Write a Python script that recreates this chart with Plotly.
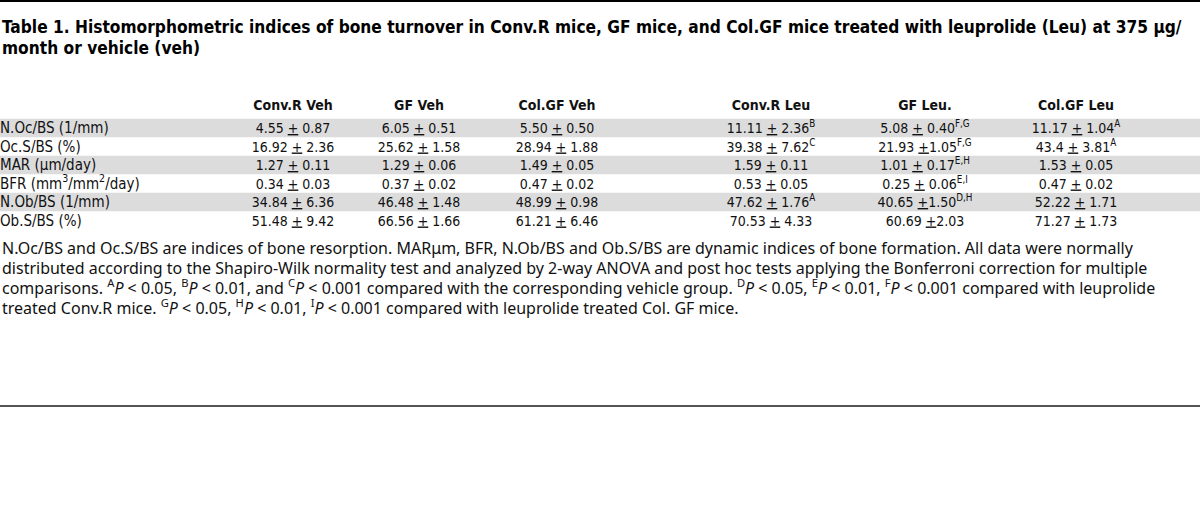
import plotly.graph_objects as go

# Table content
groups = ['Conv.R Veh', 'GF Veh', 'Col.GF Veh', 'Conv.R Leu', 'GF Leu.', 'Col.GF Leu']
indices = ['N.Oc/BS (1/mm)', 'Oc.S/BS (%)', 'MAR (μm/day)',
           'BFR (mm<sup>3</sup>/mm<sup>2</sup>/day)', 'N.Ob/BS (1/mm)', 'Ob.S/BS (%)']

means = [
    ['4.55', '16.92', '1.27', '0.34', '34.84', '51.48'],
    ['6.05', '25.62', '1.29', '0.37', '46.48', '66.56'],
    ['5.50', '28.94', '1.49', '0.47', '48.99', '61.21'],
    ['11.11', '39.38', '1.59', '0.53', '47.62', '70.53'],
    ['5.08', '21.93', '1.01', '0.25', '40.65', '60.69'],
    ['11.17', '43.4', '1.53', '0.47', '52.22', '71.27'],
]
sems = [
    ['0.87', '2.36', '0.11', '0.03', '6.36', '9.42'],
    ['0.51', '1.58', '0.06', '0.02', '1.48', '1.66'],
    ['0.50', '1.88', '0.05', '0.02', '0.98', '6.46'],
    ['2.36', '7.62', '0.11', '0.05', '1.76', '4.33'],
    ['0.40', '1.05', '0.17', '0.06', '1.50', '2.03'],
    ['1.04', '3.81', '0.05', '0.02', '1.71', '1.73'],
]
sig = [
    ['', '', '', '', '', ''],
    ['', '', '', '', '', ''],
    ['', '', '', '', '', ''],
    ['B', 'C', '', '', 'A', ''],
    ['F,G', 'F,G', 'E,H', 'E,I', 'D,H', ''],
    ['A', 'A', '', '', '', ''],
]
# cells printed without a space after the +/- sign
tight = {(4, 1), (4, 4), (4, 5)}

title = ['Table 1. Histomorphometric indices of bone turnover in Conv.R mice, GF mice, '
         'and Col.GF mice treated with leuprolide (Leu) at 375 μg/',
         'month or vehicle (veh)']
footnote = [
    'N.Oc/BS and Oc.S/BS are indices of bone resorption. MARμm, BFR, N.Ob/BS and Ob.S/BS '
    'are dynamic indices of bone formation. All data were normally',
    'distributed according to the Shapiro-Wilk normality test and analyzed by 2-way ANOVA '
    'and post hoc tests applying the Bonferroni correction for multiple',
    'comparisons. <sup>A</sup><i>P</i> &lt; 0.05, <sup>B</sup><i>P</i> &lt; 0.01, and '
    '<sup>C</sup><i>P</i> &lt; 0.001 compared with the corresponding vehicle group. '
    '<sup>D</sup><i>P</i> &lt; 0.05, <sup>E</sup><i>P</i> &lt; 0.01, <sup>F</sup><i>P</i> '
    '&lt; 0.001 compared with leuprolide',
    'treated Conv.R mice. <sup>G</sup><i>P</i> &lt; 0.05, <sup>H</sup><i>P</i> &lt; 0.01, '
    '<sup>I</sup><i>P</i> &lt; 0.001 compared with leuprolide treated Col. GF mice.',
]

# Layout (pixel space)
W, H = 1200, 511
col_x = [293, 419, 557, 771, 925, 1076]
header_y = 106
row_y0 = 128
row_h = 18.5
text_dy = 1.5
foot_y0 = 248
foot_h = 19.7
title_y = [27, 48]

cond_font = 'DejaVu Sans Condensed, Roboto, sans-serif'
foot_font = 'Noto Sans, sans-serif'

fig = go.Figure()

# gray bands on alternate rows
for i in range(0, len(indices), 2):
    fig.add_shape(type='rect', xref='x', yref='y',
                  x0=0, x1=W, y0=row_y0 + i * row_h - row_h / 2,
                  y1=row_y0 + i * row_h + row_h / 2,
                  fillcolor='#dcdcdd', line=dict(width=0), layer='below')

# top and bottom rules
fig.add_shape(type='line', xref='x', yref='y', x0=0, x1=W, y0=1, y1=1,
              line=dict(color='black', width=2))
fig.add_shape(type='line', xref='x', yref='y', x0=0, x1=W, y0=406, y1=406,
              line=dict(color='#555555', width=2))

row_pos = [row_y0 + i * row_h + text_dy for i in range(len(indices))]

# row labels
fig.add_trace(go.Scatter(
    x=[0] * len(indices), y=row_pos, text=indices, mode='text',
    textposition='middle right',
    textfont=dict(family=cond_font, size=15, color='#111111'),
    hoverinfo='skip'))

# column headers
fig.add_trace(go.Scatter(
    x=col_x, y=[header_y] * len(groups), text=['<b>%s</b>' % g for g in groups],
    mode='text', textposition='middle center',
    textfont=dict(family=cond_font, size=14, color='#111111'),
    hoverinfo='skip'))

# cells
for c in range(len(groups)):
    txt = []
    for r in range(len(indices)):
        sep = ' <u>+</u>' if (c, r) in tight else ' <u>+</u> '
        t = means[c][r] + sep + sems[c][r]
        if sig[c][r]:
            t += '<sup>' + sig[c][r] + '</sup>'
        txt.append(t)
    fig.add_trace(go.Scatter(
        x=[col_x[c]] * len(indices), y=row_pos, text=txt, mode='text',
        textposition='middle center',
        textfont=dict(family=cond_font, size=14, color='#111111'),
        hoverinfo='skip'))

# title
for i, line in enumerate(title):
    fig.add_annotation(x=0, y=title_y[i], xref='x', yref='y', text='<b>' + line + '</b>',
                       showarrow=False, xanchor='left', yanchor='middle', align='left',
                       font=dict(family=cond_font, size=17.2, color='black'))

# footnote lines
for i, line in enumerate(footnote):
    fig.add_annotation(x=0, y=foot_y0 + i * foot_h, xref='x', yref='y', text=line,
                       showarrow=False, xanchor='left', yanchor='middle', align='left',
                       font=dict(family=foot_font, size=16, color='#111111'))

fig.update_layout(
    width=W, height=H,
    margin=dict(l=0, r=0, t=0, b=0),
    paper_bgcolor='white', plot_bgcolor='white',
    showlegend=False,
    xaxis=dict(range=[0, W], visible=False, fixedrange=True),
    yaxis=dict(range=[H, 0], visible=False, fixedrange=True),
)

fig.write_html('out.html', config={'displayModeBar': False},
               post_script="document.body.style.margin='0px';")
